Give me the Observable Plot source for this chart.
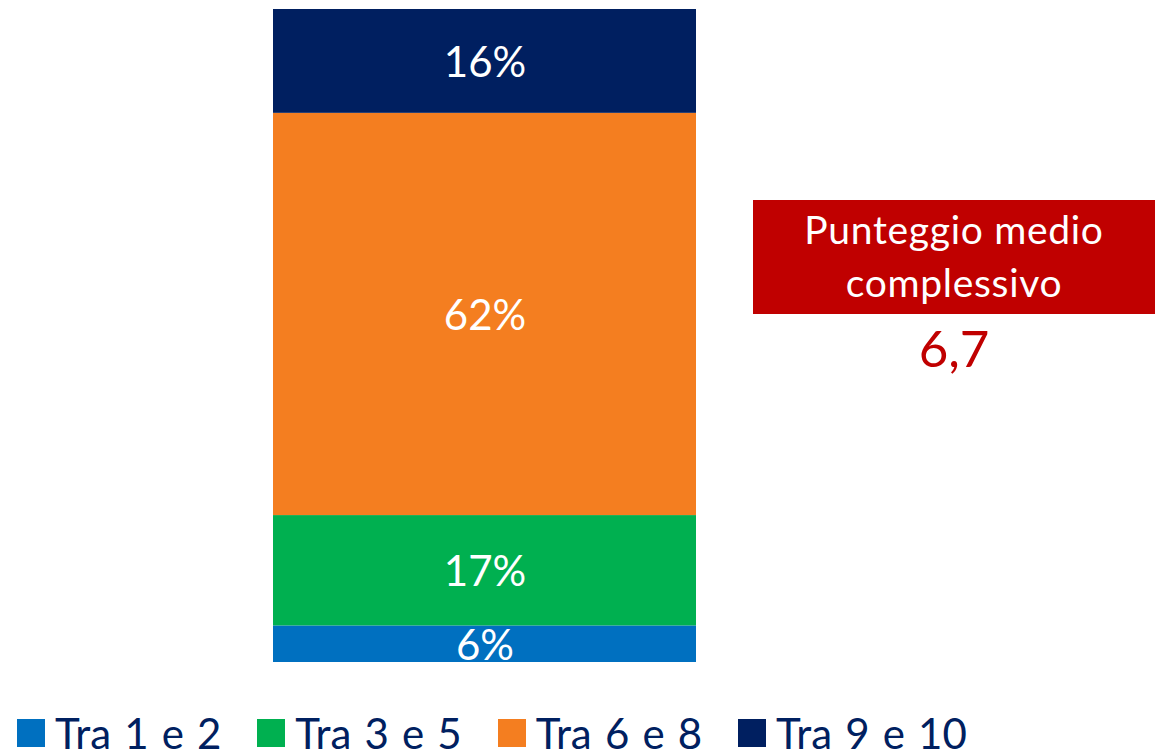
<!DOCTYPE html>
<html>
<head>
<meta charset="utf-8">
<script src="https://cdn.jsdelivr.net/npm/d3@7"></script>
<script src="https://cdn.jsdelivr.net/npm/@observablehq/plot@0.6"></script>
<style>
  html, body { margin: 0; padding: 0; background: #fff; }
  body { width: 1155px; height: 754px; position: relative; overflow: hidden; font-family: Lato, "Open Sans", sans-serif; }
  #chart { position: absolute; left: 0; top: 0; }
  #box { position: absolute; left: 753px; top: 200px; width: 402px; height: 114px; background: #C00000; color: #fff;
         font-size: 39px; letter-spacing: 0.7px; line-height: 53px; text-align: center; box-sizing: border-box; padding-top: 3px; }
  #score { position: absolute; left: 753px; top: 318px; width: 402px; text-align: center; color: #C00000; font-size: 51px; line-height: 60px; }
  #legend { position: absolute; left: 17px; top: 712px; display: flex; gap: 36px; align-items: center; }
  .item { display: flex; align-items: center; gap: 10px; font-size: 42px; word-spacing: 2.4px; color: #002060; line-height: 42px; white-space: nowrap; }
  .sw { width: 28px; height: 28px; display: inline-block; flex: none; }
</style>
</head>
<body>
<div id="chart"></div>
<div id="box">Punteggio medio<br>complessivo</div>
<div id="score"></div>
<div id="legend"></div>
<script>
const categories = ["Tra 1 e 2", "Tra 3 e 5", "Tra 6 e 8", "Tra 9 e 10"];
const values = [5.6, 16.9, 61.6, 15.9];
const labels = ["6%", "17%", "62%", "16%"];
const colors = ["#0070C0", "#00B050", "#F47E20", "#001F60"];
const barName = ["Totale"];
const averageScore = "6,7";

const data = categories.map((c, i) => ({bar: barName[0], cat: c, value: values[i], label: labels[i]}));
const total = d3.sum(values);

const chart = Plot.plot({
  width: 1155,
  height: 700,
  marginLeft: 273,
  marginRight: 459,
  marginTop: 9,
  marginBottom: 38,
  x: {domain: barName, padding: 0, axis: null},
  y: {domain: [0, total], axis: null},
  color: {domain: categories, range: colors},
  style: {fontFamily: "Lato, 'Open Sans', sans-serif", background: "transparent"},
  marks: [
    Plot.barY(data, Plot.stackY({x: "bar", y: "value", fill: "cat", order: categories, inset: 0})),
    Plot.text(data, Plot.stackY({x: "bar", y: "value", z: "cat", order: categories, text: "label", fill: "white", fontSize: 42, dy: 2}))
  ]
});
document.getElementById("chart").appendChild(chart);
document.getElementById("score").textContent = averageScore;

const legend = document.getElementById("legend");
categories.forEach((c, i) => {
  const it = document.createElement("div");
  it.className = "item";
  const sw = document.createElement("span");
  sw.className = "sw";
  sw.style.background = colors[i];
  const t = document.createElement("span");
  t.textContent = c;
  it.appendChild(sw); it.appendChild(t);
  legend.appendChild(it);
});
</script>
</body>
</html>
